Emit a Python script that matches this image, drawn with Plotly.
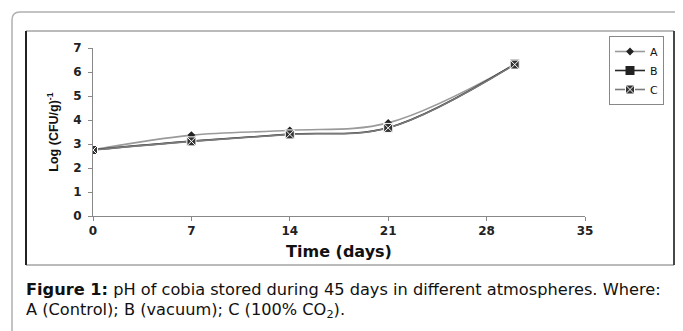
import plotly.graph_objects as go

days = [0, 7, 14, 21, 30]
series_names = ["A", "B", "C"]
a_vals = [2.76, 3.37, 3.57, 3.88, 6.30]
b_vals = [2.76, 3.12, 3.41, 3.68, 6.33]
c_vals = [2.75, 3.11, 3.40, 3.67, 6.31]
x_ticks = [0, 7, 14, 21, 28, 35]
y_ticks = [0, 1, 2, 3, 4, 5, 6, 7]

# page has an 8px body margin; compensate
OFF = 8
W, H = 683 - OFF, 331 - OFF
L, T = 93 - OFF, 48 - OFF
R = W - (585 - OFF)
B = H - (216 - OFF)
PW = W - L - R
PH = H - T - B


def px(x):
    return (x - OFF - L) / PW


def py(y):
    return (H - B - (y - OFF)) / PH


fig = go.Figure()
styles = [
    dict(line=dict(color="#9a9a9a", width=1.6), marker=dict(symbol="diamond", size=6, color="#222")),
    dict(line=dict(color="#2a2a2a", width=1.6), marker=dict(symbol="square", size=9, color="#222")),
    dict(line=dict(color="#7a7a7a", width=1.6), marker=dict(symbol="square-x", size=9, color="#333",
                                                           line=dict(color="white", width=1))),
]
for name, vals, st in zip(series_names, [a_vals, b_vals, c_vals], styles):
    fig.add_trace(go.Scatter(
        x=days, y=vals, name=name, mode="lines+markers",
        line=dict(shape="spline", smoothing=1, **st["line"]),
        marker=st["marker"],
    ))

axis_common = dict(
    showgrid=False, zeroline=False, showline=True, linecolor="#888", linewidth=1,
    ticks="outside", ticklen=4, tickcolor="#888", automargin=False,
    tickfont=dict(family="DejaVu Sans", size=12, color="#222", weight="bold"),
)
fig.update_xaxes(range=[0, 35], tickvals=x_ticks, **axis_common,
                 title=dict(text="Time (days)", font=dict(family="DejaVu Sans", size=16, color="#111", weight="bold"),
                            standoff=8))
fig.update_yaxes(range=[0, 7], tickvals=y_ticks, ticklabelstandoff=4, **axis_common,
                 title=dict(text="Log (CFU/g)<sup>-1</sup>",
                            font=dict(family="Liberation Sans", size=12.5, color="#111", weight="bold"),
                            standoff=11))

shapes = [
    dict(type="path", xref="paper", yref="paper",
         path=f"M {px(12)},{py(345)} L {px(12)},{py(20)} Q {px(12)},{py(12)} {px(20)},{py(12)} L {px(700)},{py(12)}",
         line=dict(color="#b0b0b0", width=1.5)),
    dict(type="rect", xref="paper", yref="paper", x0=px(26), x1=px(674), y0=py(265), y1=py(31),
         line=dict(color="#777", width=1)),
    dict(type="line", xref="paper", yref="paper", x0=px(26), x1=px(26), y0=py(265), y1=py(31),
         line=dict(color="#222", width=2)),
    dict(type="line", xref="paper", yref="paper", x0=px(674), x1=px(674), y0=py(265), y1=py(31),
         line=dict(color="#222", width=1.5)),
]

annotations = [
    dict(xref="paper", yref="paper", x=px(24), y=py(289), xanchor="left", yanchor="middle",
         text="<b>Figure 1:</b> pH of cobia stored during 45 days in different atmospheres. Where:",
         showarrow=False, font=dict(family="DejaVu Sans", size=16.2, color="#111")),
    dict(xref="paper", yref="paper", x=px(24), y=py(310), xanchor="left", yanchor="middle",
         text="A (Control); B (vacuum); C (100% CO<sub>2</sub>).",
         showarrow=False, font=dict(family="DejaVu Sans", size=16.2, color="#111")),
]

fig.update_layout(
    width=W, height=H,
    margin=dict(l=L, r=R, t=T, b=B, autoexpand=False),
    paper_bgcolor="white", plot_bgcolor="white",
    showlegend=True,
    legend=dict(x=px(609), y=py(36), xanchor="left", yanchor="top",
                bordercolor="#888", borderwidth=1, bgcolor="white",
                font=dict(family="DejaVu Sans", size=11, color="#111"),
                itemwidth=30, tracegroupgap=0),
    shapes=shapes, annotations=annotations,
)

fig.write_html("out.html")
